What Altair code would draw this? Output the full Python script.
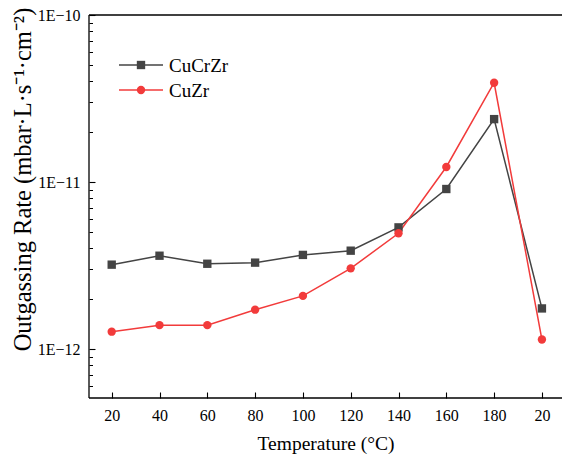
import altair as alt
import pandas as pd

# ---- data ----
TEMP_LABELS = ["20", "40", "60", "80", "100", "120", "140", "160", "180", "20"]
CUCRZR = [3.20e-12, 3.62e-12, 3.24e-12, 3.29e-12, 3.66e-12, 3.88e-12, 5.35e-12, 9.08e-12, 2.38e-11, 1.75e-12]
CUZR = [1.27e-12, 1.39e-12, 1.39e-12, 1.72e-12, 2.08e-12, 3.04e-12, 4.93e-12, 1.23e-11, 3.93e-11, 1.14e-12]
SERIES = ["CuCrZr", "CuZr"]
COLORS = ["#444444", "#f23b3b"]
SHAPES = ["square", "circle"]
Y_DECADES = [1e-12, 1e-11, 1e-10]

rows = []
for name, vals in zip(SERIES, [CUCRZR, CUZR]):
    for i, (lab, v) in enumerate(zip(TEMP_LABELS, vals)):
        rows.append({"idx": i + 1, "temp": lab, "rate": v, "series": name})
df = pd.DataFrame(rows)

FONT = "Liberation Serif"
W, H = 473, 383
X_MIN, X_MAX = 0.525, 10.42
Y_MIN, Y_MAX = 5.09e-13, 1e-10
TICK = 6

n = len(TEMP_LABELS)
x_major_vals = [float(k) for k in range(1, n + 1)]
x_minor_vals = [k + 0.5 for k in range(1, n)]
x_lab_arr = "[" + ",".join("'" + t + "'" for t in TEMP_LABELS) + "]"

y_minor_vals = []
for dec in [-13, -12, -11]:
    for m in range(2, 10):
        v = m * 10.0 ** dec
        if Y_MIN <= v <= Y_MAX:
            y_minor_vals.append(v)
lg = "(log(datum.value)/LN10)"
y_major = f"(abs({lg} - round({lg})) < 0.001)"
x_major = "(datum.value % 1 == 0)"

x_scale = alt.Scale(domain=[X_MIN, X_MAX], nice=False, zero=False)
y_scale = alt.Scale(type="log", domain=[Y_MIN, Y_MAX], nice=False)


def make_axes(with_minor):
    # axes moved inward by the tick length so that their (outward) ticks point into the frame
    xv = sorted(x_major_vals + x_minor_vals) if with_minor else x_major_vals
    yv = sorted(Y_DECADES + y_minor_vals) if with_minor else Y_DECADES
    xkw, ykw = {}, {}
    if with_minor:
        xkw["tickDash"] = {"condition": {"test": f"!{x_major}", "value": [0, 3, 3]}, "value": [6, 0]}
        ykw["tickDash"] = {"condition": {"test": f"!{y_major}", "value": [0, 2.5, 3.5]}, "value": [6, 0]}
    x_axis = alt.Axis(
        values=xv, offset=-TICK,
        labelExpr=f"{x_major} ? {x_lab_arr}[datum.value - 1] : ''",
        ticks=True, tickSize=TICK, tickColor="black", tickWidth=1.1, labelPadding=9,
        labelFont=FONT, labelFontSize=16, labelColor="black",
        title="Temperature (°C)", titleFont=FONT, titleFontSize=19.5,
        titleFontWeight="normal", titleColor="black",
        titleBaseline="alphabetic", titleY=51 + TICK,
        domain=False, grid=False, labelFlush=False, labelOverlap=False, **xkw,
    )
    y_axis = alt.Axis(
        values=yv, offset=-TICK,
        labelExpr=f"{y_major} ? '1E−' + format(-round({lg}), 'd') : ''",
        ticks=True, tickSize=TICK, tickColor="black", tickWidth=1.1, labelPadding=9,
        labelFont=FONT, labelFontSize=16, labelColor="black",
        title="Outgassing Rate (mbar·L·s⁻¹·cm⁻²)", titleFont=FONT, titleFontSize=24.5,
        titleFontWeight="normal", titleColor="black",
        titleAngle=270, titleAlign="center", titleBaseline="middle",
        titleX=-66 - TICK, titleY=164,
        domain=False, grid=False, labelFlush=False, labelOverlap=False, **ykw,
    )
    return x_axis, y_axis


def build(with_minor):
    x_axis, y_axis = make_axes(with_minor)
    color_scale = alt.Scale(domain=SERIES, range=COLORS)
    shape_scale = alt.Scale(domain=SERIES, range=SHAPES)
    base = alt.Chart(df)
    lines = base.mark_line(strokeWidth=1.5).encode(
        x=alt.X("idx:Q", scale=x_scale, axis=x_axis),
        y=alt.Y("rate:Q", scale=y_scale, axis=y_axis),
        color=alt.Color("series:N", scale=color_scale, legend=None),
    )
    points = base.mark_point(filled=True, opacity=1, size=70).encode(
        x=alt.X("idx:Q", scale=x_scale),
        y=alt.Y("rate:Q", scale=y_scale),
        color=alt.Color("series:N", scale=color_scale, legend=None),
        shape=alt.Shape("series:N", scale=shape_scale, legend=None),
    )

    # frame: left, bottom and top edges (the right edge lies outside the picture)
    k = pd.DataFrame({"k": [0]})
    frame = [
        alt.Chart(k).mark_rule(color="black", strokeWidth=1.3).encode(
            x=alt.value(0), x2=alt.value(W), y=alt.value(0)),
        alt.Chart(k).mark_rule(color="black", strokeWidth=1.3).encode(
            x=alt.value(0), x2=alt.value(W), y=alt.value(H)),
        alt.Chart(k).mark_rule(color="black", strokeWidth=1.3).encode(
            x=alt.value(0), y=alt.value(0), y2=alt.value(H)),
    ]

    # legend (line + marker + label), top-left inside the frame
    legend_layers = []
    for i, (name, col, shp) in enumerate(zip(SERIES, COLORS, SHAPES)):
        ld = pd.DataFrame({"label": [name]})
        yy = 50 + 25 * i
        legend_layers.append(
            alt.Chart(ld).mark_rule(color=col, strokeWidth=1.5).encode(
                x=alt.value(30), x2=alt.value(74), y=alt.value(yy))
        )
        legend_layers.append(
            alt.Chart(ld).mark_point(filled=True, opacity=1, size=70, color=col, shape=shp).encode(
                x=alt.value(52), y=alt.value(yy))
        )
        legend_layers.append(
            alt.Chart(ld).mark_text(font=FONT, fontSize=19, color="black", align="left",
                                    baseline="middle").encode(
                x=alt.value(80), y=alt.value(yy + 1), text="label:N")
        )

    return (
        alt.layer(lines, points, *frame, *legend_layers)
        .properties(
            width=W, height=H,
            autosize=alt.AutoSizeParams(type="none"),
            padding={"left": 89, "top": 15, "right": 0, "bottom": 59},
            background="white",
        )
        .configure_view(stroke=None)
    )


try:
    chart = build(True)
    chart.to_dict()
except Exception:
    chart = build(False)

chart.save("out.html", embed_options={"renderer": "svg", "actions": False})
